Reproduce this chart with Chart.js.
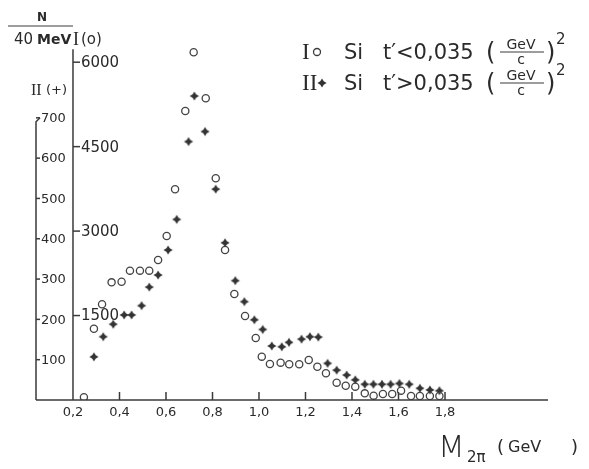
<!DOCTYPE html>
<html>
<head>
<meta charset="utf-8">
<script src="https://cdn.jsdelivr.net/npm/chart.js@4.4.1/dist/chart.umd.min.js"></script>
<style>
  html, body { margin: 0; padding: 0; background: #ffffff; }
  #wrap { width: 589px; height: 469px; }
</style>
</head>
<body>
<div id="wrap"><canvas id="c" width="589" height="469"></canvas></div>
<script>
// ---- data ----
// Series I (open circles), Si, t' < 0,035 (GeV/c)^2 — inner axis
const massI = [0.247, 0.29, 0.325, 0.366, 0.409, 0.445, 0.488, 0.528, 0.566, 0.603, 0.639, 0.683, 0.719, 0.771, 0.814, 0.854, 0.894, 0.94, 0.986, 1.012, 1.047, 1.093, 1.13, 1.173, 1.214, 1.251, 1.288, 1.334, 1.373, 1.414, 1.455, 1.493, 1.533, 1.573, 1.611, 1.654, 1.692, 1.735, 1.776];
const countsI = [50, 1266, 1700, 2090, 2101, 2297, 2297, 2297, 2487, 2913, 3742, 5133, 6176, 5359, 3938, 2664, 1883, 1492, 1101, 770, 639, 663, 634, 634, 710, 591, 474, 308, 254, 237, 118, 77, 107, 107, 166, 71, 71, 71, 71];
// Series II (crosses), Si, t' > 0,035 (GeV/c)^2 — outer axis
const massII = [0.29, 0.33, 0.373, 0.42, 0.452, 0.495, 0.528, 0.566, 0.609, 0.646, 0.697, 0.722, 0.768, 0.814, 0.854, 0.898, 0.937, 0.98, 1.016, 1.055, 1.098, 1.129, 1.183, 1.219, 1.255, 1.295, 1.334, 1.377, 1.414, 1.455, 1.492, 1.529, 1.566, 1.604, 1.646, 1.692, 1.735, 1.776];
const countsII = [107, 157, 188, 211, 211, 234, 280, 310, 372, 448, 641, 754, 666, 523, 390, 296, 244, 199, 175, 134, 132, 143, 151, 157, 156, 91, 74, 62, 50, 39, 39, 39, 39, 41, 39, 29, 25, 23];
// tick labels
const xTicks = [0.2, 0.4, 0.6, 0.8, 1.0, 1.2, 1.4, 1.6, 1.8];
const ticksI = [1500, 3000, 4500, 6000];
const ticksII = [100, 200, 300, 400, 500, 600, 700];

const INK = '#2a2a2a';
const SANS = '"DejaVu Sans", "Liberation Sans", sans-serif';
const SERIF = '"Liberation Serif", "DejaVu Serif", serif';

function fmt(v) { return v.toFixed(1).replace('.', ','); }

// four-pointed star marker for series II
function makeStar(r, color) {
  const c = document.createElement('canvas');
  const s = Math.ceil(r * 2 + 2);
  c.width = s; c.height = s;
  const g = c.getContext('2d');
  const m = s / 2, w = r * 0.38;
  g.fillStyle = color;
  g.beginPath();
  g.moveTo(m, m - r);
  g.lineTo(m + w, m - w);
  g.lineTo(m + r, m);
  g.lineTo(m + w, m + w);
  g.lineTo(m, m + r);
  g.lineTo(m - w, m + w);
  g.lineTo(m - r, m);
  g.lineTo(m - w, m - w);
  g.closePath();
  g.fill();
  return c;
}
const starImg = makeStar(4.6, '#333333');

const axesPlugin = {
  id: 'handAxes',
  afterDraw(chart) {
    const ctx = chart.ctx;
    const sx = chart.scales.x, s1 = chart.scales.yI, s2 = chart.scales.yII;
    const area = chart.chartArea;
    const y0 = s1.getPixelForValue(0);
    ctx.save();
    ctx.strokeStyle = '#3a3a3a';
    ctx.fillStyle = INK;
    ctx.lineWidth = 1.5;

    // x axis line
    ctx.beginPath();
    ctx.moveTo(area.left, y0);
    ctx.lineTo(area.right, y0);
    ctx.stroke();
    // x ticks (pointing up) and labels
    ctx.font = '13px ' + SANS;
    ctx.textAlign = 'center';
    ctx.textBaseline = 'top';
    xTicks.forEach(v => {
      const px = sx.getPixelForValue(v);
      if (v > 0.2) {
        ctx.beginPath();
        ctx.moveTo(px, y0);
        ctx.lineTo(px, y0 - 8);
        ctx.stroke();
      }
      ctx.fillText(fmt(v), px, y0 + 6);
    });

    // inner axis (I)
    const xI = sx.getPixelForValue(0.2);
    ctx.beginPath();
    ctx.moveTo(xI, s1.getPixelForValue(6230));
    ctx.lineTo(xI, y0);
    ctx.stroke();
    ctx.font = '15px ' + SANS;
    ctx.textAlign = 'left';
    ctx.textBaseline = 'middle';
    ticksI.forEach(v => {
      const py = s1.getPixelForValue(v);
      ctx.beginPath();
      ctx.moveTo(xI, py);
      ctx.lineTo(xI + 7, py);
      ctx.stroke();
      ctx.fillText(String(v), xI + 8, py + 1);
    });

    // outer axis (II)
    const xII = area.left;
    ctx.beginPath();
    ctx.moveTo(xII + 4, s2.getPixelForValue(700));
    ctx.lineTo(xII, s2.getPixelForValue(690));
    ctx.lineTo(xII, y0);
    ctx.stroke();
    ctx.font = '13px ' + SANS;
    ticksII.forEach(v => {
      const py = s2.getPixelForValue(v);
      ctx.beginPath();
      ctx.moveTo(xII, py);
      ctx.lineTo(xII + 4, py);
      ctx.stroke();
      ctx.fillText(String(v), xII + 5, py + 1);
    });

    // y header: N / 40 MeV  I(o)
    ctx.textBaseline = 'alphabetic';
    ctx.textAlign = 'center';
    ctx.font = 'bold 12px ' + SANS;
    ctx.fillText('N', 42, 21);
    ctx.lineWidth = 1;
    ctx.beginPath();
    ctx.moveTo(8, 26);
    ctx.lineTo(73, 26);
    ctx.stroke();
    ctx.textAlign = 'left';
    ctx.font = '15px ' + SANS;
    ctx.fillText('40', 14, 44);
    ctx.font = 'bold 14px ' + SANS;
    ctx.fillText('MeV', 37, 44);
    ctx.font = '18px ' + SERIF;
    ctx.fillText('I', 73, 45);
    ctx.font = '15px ' + SANS;
    ctx.fillText('(o)', 81, 44);
    // II(+)
    ctx.font = '16px ' + SERIF;
    ctx.fillText('II', 31, 95);
    ctx.font = '13px ' + SANS;
    ctx.fillText('(+)', 46, 94);

    // legend
    function legendLine(y, roman, isCircle, rel) {
      ctx.textAlign = 'left';
      ctx.textBaseline = 'alphabetic';
      ctx.font = '23px ' + SERIF;
      ctx.fillText(roman, 302, y + 8);
      const mx = roman === 'I' ? 317 : 322;
      if (isCircle) {
        ctx.lineWidth = 1.3;
        ctx.beginPath();
        ctx.arc(mx, y + 1, 3.5, 0, Math.PI * 2);
        ctx.stroke();
      } else {
        ctx.drawImage(starImg, mx - starImg.width / 2, y + 1 - starImg.height / 2);
      }
      ctx.font = '21px ' + SANS;
      ctx.fillText('Si', 344, y + 8);
      ctx.fillText('t\u2032' + rel + '0,035', 383, y + 8);
      ctx.font = '24px ' + SANS;
      ctx.fillText('(', 486, y + 9);
      ctx.font = '14px ' + SANS;
      ctx.textAlign = 'center';
      ctx.fillText('GeV', 521, y - 2);
      ctx.fillText('c', 521, y + 13);
      ctx.lineWidth = 1;
      ctx.beginPath();
      ctx.moveTo(500, y + 1);
      ctx.lineTo(544, y + 1);
      ctx.stroke();
      ctx.textAlign = 'left';
      ctx.font = '24px ' + SANS;
      ctx.fillText(')', 546, y + 9);
      ctx.font = '15px ' + SANS;
      ctx.fillText('2', 556, y - 7);
    }
    legendLine(51, 'I', true, '<');
    legendLine(82, 'II', false, '>');

    // x title: M_2π ( GeV )
    ctx.textAlign = 'left';
    ctx.textBaseline = 'alphabetic';
    ctx.font = '200 31px ' + SANS;
    ctx.fillText('M', 438, 457);
    ctx.font = '15px ' + SANS;
    ctx.fillText('2\u03C0', 467, 462);
    ctx.font = '18px ' + SANS;
    ctx.fillText('(', 497, 453);
    ctx.font = '16px ' + SANS;
    ctx.fillText('GeV', 508, 452);
    ctx.font = '18px ' + SANS;
    ctx.fillText(')', 571, 453);
    ctx.restore();
  }
};

const ptsI = massI.map((m, i) => ({ x: m, y: countsI[i] }));
const ptsII = massII.map((m, i) => ({ x: m, y: countsII[i] }));

new Chart(document.getElementById('c'), {
  type: 'scatter',
  data: {
    datasets: [
      {
        label: 'I  Si  t\u2032<0,035 (GeV/c)\u00B2',
        data: ptsI,
        yAxisID: 'yI',
        pointStyle: 'circle',
        pointRadius: 3.6,
        pointBorderWidth: 1.3,
        borderColor: '#444444',
        backgroundColor: 'rgba(255,255,255,0)',
        pointHoverRadius: 3.6
      },
      {
        label: 'II  Si  t\u2032>0,035 (GeV/c)\u00B2',
        data: ptsII,
        yAxisID: 'yII',
        pointStyle: starImg,
        pointRadius: 4.6,
        borderColor: '#333333',
        backgroundColor: '#333333',
        pointHoverRadius: 4.6
      }
    ]
  },
  options: {
    responsive: false,
    animation: false,
    devicePixelRatio: 1,
    layout: { padding: { left: 36, top: 40, right: 41, bottom: 69 } },
    plugins: { legend: { display: false }, tooltip: { enabled: false } },
    scales: {
      x: { type: 'linear', display: false, min: 0.0409, max: 2.243 },
      yI: { type: 'linear', display: false, min: 0, max: 6394 },
      yII: { type: 'linear', display: false, min: 0, max: 893 }
    }
  },
  plugins: [axesPlugin]
});
</script>
</body>
</html>
